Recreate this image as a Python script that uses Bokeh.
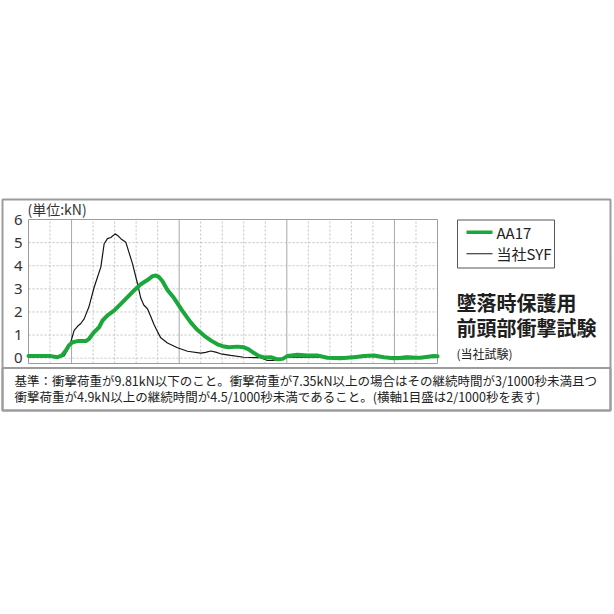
from bokeh.plotting import figure
from bokeh.models import Range1d
from bokeh.core.properties import value
from bokeh.embed import file_html
from bokeh.resources import INLINE

# ---------------- data ----------------
# time in ms (1 grid step = 2 ms), impact force in kN
time_ms_syf = [0.0, 2.1, 3.0, 3.31, 3.56, 3.93, 4.24, 4.56, 4.86, 5.17, 5.6,
               6.1, 6.72, 7.03, 7.34, 7.65, 8.05, 8.3, 8.58, 9.04, 9.32, 9.66,
               10.13, 10.43, 10.71, 11.05, 11.36, 11.67, 11.98, 12.29, 12.91,
               13.84, 14.77, 16.0, 16.46, 16.93, 17.39, 17.86, 18.78, 20.02,
               21.57, 22.19, 22.78, 23.24, 24.07, 25.28, 27.14, 28.99, 30.85,
               32.71, 34.1, 35.19, 36.42, 38.0]
force_syf = [0.05, 0.05, 0.05, 0.1, 0.3, 0.7, 1.2, 1.38, 1.5, 1.7, 2.2,
             3.07, 3.94, 4.95, 5.17, 5.22, 5.38, 5.3, 5.17, 5.02, 4.6, 4.09,
             3.22, 2.6, 2.3, 2.14, 1.8, 1.45, 1.15, 0.88, 0.66,
             0.45, 0.3, 0.22, 0.25, 0.31, 0.26, 0.19, 0.12, 0.04,
             0.02, -0.1, -0.1, -0.05, 0.04, 0.05, 0.05, 0.06, 0.09,
             0.07, 0.06, 0.09, 0.06, 0.07]

time_ms_aa17 = [0.0, 2.08, 2.7, 3.1, 3.47, 3.75, 4.09, 4.56, 5.33, 5.63, 6.1,
                6.56, 6.88, 7.34, 7.95, 8.58, 9.2, 9.81, 10.43, 11.05, 11.52,
                11.83, 12.1, 12.45, 12.91, 13.52, 14.3, 15.07, 15.63, 16.31,
                16.93, 17.55, 18.04, 18.6, 19.41, 20.02, 20.46, 20.95, 21.39,
                21.88, 22.5, 23.12, 23.61, 24.05, 24.98, 25.9, 26.83, 27.76,
                28.99, 30.23, 31.16, 32.09, 33.02, 33.94, 35.19, 36.42, 37.65,
                38.0]
force_aa17 = [0.09, 0.09, 0.04, 0.12, 0.33, 0.55, 0.69, 0.74, 0.74, 0.84, 1.13,
              1.34, 1.63, 1.85, 2.06, 2.35, 2.64, 2.93, 3.2, 3.38, 3.55,
              3.58, 3.52, 3.33, 2.95, 2.6, 2.05, 1.55, 1.25, 0.98,
              0.77, 0.6, 0.52, 0.47, 0.5, 0.47, 0.38, 0.22, 0.1,
              0.03, 0.04, -0.05, -0.03, 0.09, 0.15, 0.12, 0.12, 0.02,
              0.0, 0.04, 0.09, 0.12, 0.04, 0.0, 0.02, 0.02, 0.09,
              0.08]

y_tick_values = [0, 1, 2, 3, 4, 5, 6]
y_tick_labels = ["0", "1", "2", "3", "4", "5", "6"]
y_dashed_grid = [0, 1, 2, 3, 4, 5]
x_major_grid_ms = [4, 14, 24, 34]
x_minor_grid_ms = [2, 6, 8, 10, 12, 16, 18, 20, 22, 26, 28, 30, 32, 36]
x_limits_ms = (0, 38)
y_limits_kn = (-0.23, 6)

series_names = ["AA17", "当社SYF"]
unit_text = "(単位:kN)"
title_lines = ["墜落時保護用", "前頭部衝撃試験"]
subtitle_text = "(当社試験)"
note_lines = [
    "基準：衝撃荷重が9.81kN以下のこと。衝撃荷重が7.35kN以上の場合はその継続時間が3/1000秒未満且つ",
    "衝撃荷重が4.9kN以上の継続時間が4.5/1000秒未満であること。(横軸1目盛は2/1000秒を表す)",
]

# ---------------- layout (canvas pixels, y downwards) ----------------
W, H = 612, 612
FL, FT, FW, FH = 28, 219, 409, 144      # chart frame inside the canvas

CJK = "Noto Sans CJK JP"
GREEN = "#1ba83b"
BLACK = "#161616"
BORDER = "#9c9c9c"

p = figure(width=W, height=H, output_backend="svg", toolbar_location=None,
           x_range=Range1d(0, W), y_range=Range1d(H, 0),
           x_axis_location=None, y_axis_location=None,
           min_border=0, min_border_left=0, min_border_right=0,
           min_border_top=0, min_border_bottom=0,
           background_fill_color="white", border_fill_color="white")
p.outline_line_color = None
p.xgrid.visible = False
p.ygrid.visible = False

# data ranges mapped onto the chart frame region of the canvas
x0, x1 = x_limits_ms
y0, y1 = y_limits_kn
kx = FW / (x1 - x0)
ky = FH / (y1 - y0)
p.extra_x_ranges = {"ms": Range1d(x0 - FL / kx, x0 + (W - FL) / kx)}
p.extra_y_ranges = {"kN": Range1d(y0 - (H - FT - FH) / ky, y1 + FT / ky)}
D = dict(x_range_name="ms", y_range_name="kN")

# outer box and note area
p.quad(left=[2], right=[610], top=[199], bottom=[410], fill_color=None,
       line_color=BORDER, line_width=2)
p.quad(left=[2], right=[610], top=[367.5], bottom=[410], fill_color=None,
       line_color=BORDER, line_width=2)

# grid
p.segment(x0=x_minor_grid_ms, x1=x_minor_grid_ms,
          y0=[y0] * len(x_minor_grid_ms), y1=[y1] * len(x_minor_grid_ms),
          line_color="#c2c2c2", line_width=1, line_dash="2 2", **D)
p.segment(x0=[x0] * len(y_dashed_grid), x1=[x1] * len(y_dashed_grid),
          y0=y_dashed_grid, y1=y_dashed_grid,
          line_color="#c2c2c2", line_width=1, line_dash="2 2", **D)
p.segment(x0=x_major_grid_ms, x1=x_major_grid_ms,
          y0=[y0] * len(x_major_grid_ms), y1=[y1] * len(x_major_grid_ms),
          line_color="#a8a8a8", line_width=1, **D)
p.quad(left=[x0], right=[x1], bottom=[y0], top=[y1], fill_color=None,
       line_color=BORDER, line_width=1, **D)

# y tick labels
p.text(x=[FL - 6] * len(y_tick_values), y=y_tick_values, text=y_tick_labels,
       text_font=value("Noto Sans"), text_font_size=value("15px"),
       text_color="#333333", text_align="right", text_baseline="middle",
       y_range_name="kN")

# series
r_syf = p.line(time_ms_syf, force_syf, line_color=BLACK, line_width=1.2, **D)
r_aa = p.line(time_ms_aa17, force_aa17, line_color=GREEN, line_width=4,
              line_join="round", line_cap="round", **D)

# legend (box, sample lines, labels)
legend_rows_y = [231.7, 253.3]
legend_colors = [GREEN, BLACK]
legend_widths = [3.5, 1.1]
p.quad(left=[457], right=[554], top=[219.5], bottom=[267.5], fill_color="white",
       line_color="#555555", line_width=1)
p.segment(x0=[466, 466], x1=[492, 492], y0=legend_rows_y, y1=legend_rows_y,
          line_color=legend_colors, line_width=legend_widths)
p.text(x=[496, 496], y=legend_rows_y, text=series_names,
       text_font=value(CJK), text_font_size=value("15px"), text_color="#222222",
       text_align="left", text_baseline="middle")


def add_text(cx, cy, text, size, color="#222222", font=CJK, style="normal"):
    p.text(x=[cx], y=[cy], text=[text], text_font=value(font),
           text_font_size=value(size), text_color=color,
           text_font_style=style, text_baseline="middle", text_align="left")


add_text(27, 208, unit_text, "14px", "#333333")
add_text(456, 301.7, title_lines[0], "20px", "#1e1e1e", style="bold")
add_text(456, 326.7, title_lines[1], "20px", "#1e1e1e", style="bold")
add_text(456, 353, subtitle_text, "12px")
add_text(14, 380, note_lines[0], "12.5px")
add_text(14, 396, note_lines[1], "12.5px")

open("out.html", "w").write(file_html(p, INLINE))
